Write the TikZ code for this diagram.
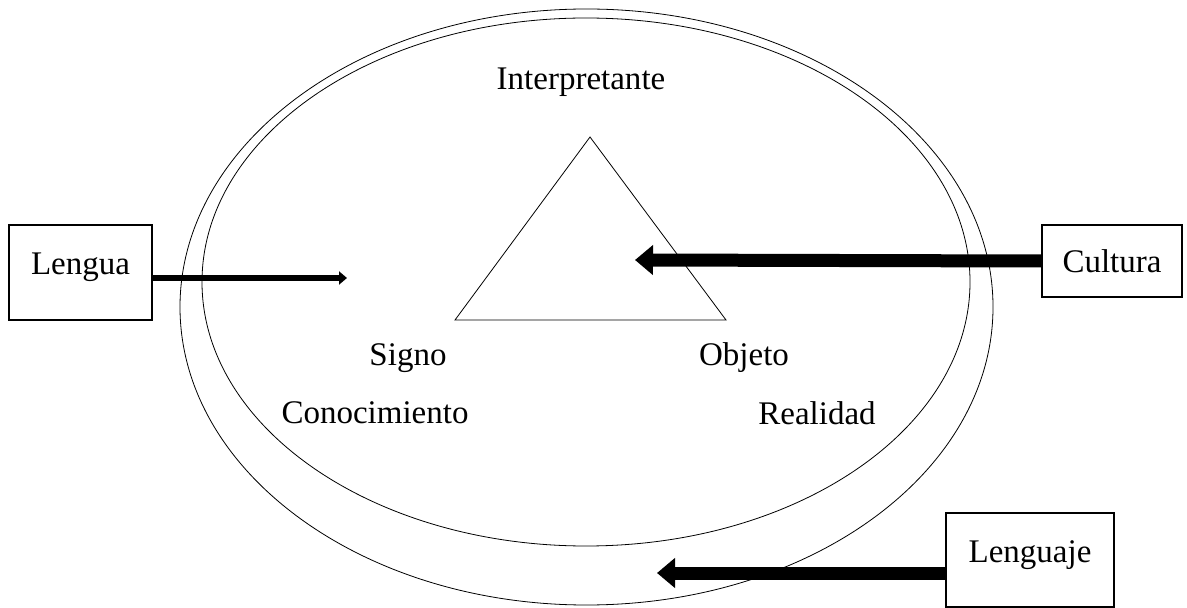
\documentclass[tikz,border=0pt]{standalone}
\usepackage{fontspec}
\setmainfont{Liberation Serif}
\usetikzlibrary{arrows.meta}

\begin{document}
\begin{tikzpicture}[x=0.5pt,y=-0.5pt]
\tikzset{ >=Triangle, line width=1pt,
  texto/.style={font=\fontsize{16.5}{19}\selectfont, inner sep=0pt},
  caja/.style={texto, draw, line width=0.9pt},
  alto/.style={text height=11pt, text depth=9pt},
  flechagruesa/.style={line width=6.5pt, -{Triangle[length=9pt,width=14.5pt]}},
  flechafina/.style={line width=2.6pt, -{Triangle[length=4pt,width=6.5pt]}},
}
\useasboundingbox (0,0) rectangle (1187,608);

% elipses
\draw (586.5,307) ellipse [x radius=406.5, y radius=298];
\draw (586,282) ellipse [x radius=384, y radius=264];

% triangulo semiotico
\draw (590,137) -- (726,320) -- (455,320) -- cycle;

\node [texto] (interp) at (581,82)  {Interpretante};
\node [texto] (signo)  at (408,358) {Signo};
\node [texto] (objeto) at (744,358) {Objeto};
\node [texto] (conoc)  at (375,413) {Conocimiento};
\node [texto] (realid) at (817,413) {Realidad};

% cajas
\node [caja, alto, minimum width=71.5pt, minimum height=47.5pt] (lengua)   at (80.5,272.5) {Lengua};
\node [caja,       minimum width=70pt,   minimum height=36pt]   (cultura)  at (1112,261)   {Cultura};
\node [caja, alto, minimum width=84pt,   minimum height=47pt]   (lenguaje) at (1030,560)   {Lenguaje};

% flechas
\coordinate (puntaL) at (347,278);
\coordinate (puntaC) at (635,260);
\coordinate (puntaJ) at (657,573);

\draw [flechafina]   (lengua.east |- puntaL)  -- (puntaL);
\draw [flechagruesa] (cultura.west)            -- (puntaC);
\draw [flechagruesa] (lenguaje.west |- puntaJ) -- (puntaJ);

\end{tikzpicture}
\end{document}
